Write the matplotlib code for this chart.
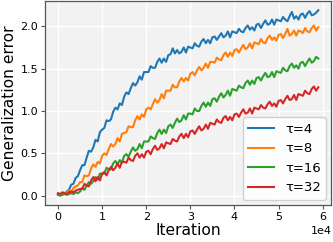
#! /usr/bin/env python
'''
Generalization error vs iteration for several tau values
'''

import numpy as np
import matplotlib
matplotlib.use("Agg")
import matplotlib.pyplot as plt

# iterations, one reading every 500 steps (0 .. 59000)
iterations = np.arange(0, 59500, 500)

# values
tau4 = [0.02, 0.01, 0.03, 0.02, 0.05, 0.07, 0.13, 0.14, 0.21, 0.23, 0.30,
        0.36, 0.36, 0.45, 0.53, 0.52, 0.57, 0.66, 0.64, 0.75, 0.78,
        0.80, 0.89, 0.88, 0.90, 0.99, 1.04, 1.02, 1.09, 1.07, 1.17,
        1.22, 1.20, 1.27, 1.33, 1.30, 1.34, 1.41, 1.37, 1.46, 1.46,
        1.46, 1.53, 1.51, 1.51, 1.58, 1.62, 1.57, 1.62, 1.58, 1.66,
        1.67, 1.74, 1.68, 1.72, 1.68, 1.70, 1.75, 1.69, 1.76, 1.75,
        1.74, 1.80, 1.77, 1.76, 1.82, 1.85, 1.80, 1.84, 1.80, 1.87,
        1.88, 1.84, 1.88, 1.92, 1.87, 1.89, 1.94, 1.87, 1.94, 1.93,
        1.92, 1.97, 1.94, 1.93, 1.98, 2.01, 1.96, 1.99, 1.95, 2.02,
        2.03, 1.98, 2.03, 2.07, 2.02, 2.03, 2.08, 2.02, 2.08, 2.07,
        2.06, 2.11, 2.08, 2.06, 2.12, 2.17, 2.09, 2.12, 2.08, 2.14,
        2.15, 2.10, 2.15, 2.18, 2.13, 2.14, 2.16, 2.19]
tau8 = [0.02, 0.01, 0.03, 0.02, 0.04, 0.06, 0.05, 0.09, 0.11, 0.12, 0.16,
        0.16, 0.24, 0.23, 0.24, 0.32, 0.37, 0.34, 0.40, 0.38, 0.47,
        0.50, 0.48, 0.55, 0.61, 0.58, 0.61, 0.68, 0.64, 0.73, 0.74,
        0.75, 0.82, 0.81, 0.81, 0.89, 0.94, 0.90, 0.96, 0.93, 1.02,
        1.04, 1.02, 1.08, 1.14, 1.10, 1.13, 1.20, 1.15, 1.24, 1.24,
        1.24, 1.31, 1.28, 1.28, 1.35, 1.39, 1.35, 1.39, 1.36, 1.44,
        1.46, 1.42, 1.48, 1.52, 1.48, 1.51, 1.56, 1.51, 1.58, 1.58,
        1.57, 1.63, 1.61, 1.60, 1.66, 1.69, 1.64, 1.69, 1.65, 1.72,
        1.73, 1.69, 1.74, 1.78, 1.73, 1.75, 1.80, 1.74, 1.81, 1.80,
        1.79, 1.85, 1.81, 1.80, 1.86, 1.89, 1.84, 1.87, 1.83, 1.90,
        1.91, 1.86, 1.91, 1.97, 1.89, 1.91, 1.95, 1.89, 1.95, 1.94,
        1.92, 1.98, 1.94, 1.93, 1.98, 2.01, 1.95, 1.99]
tau16 = [0.01, 0.00, 0.01, 0.02, 0.01, 0.02, 0.03, 0.02, 0.04, 0.03, 0.05,
         0.09, 0.07, 0.12, 0.16, 0.14, 0.17, 0.22, 0.19, 0.26, 0.26,
         0.26, 0.33, 0.31, 0.31, 0.38, 0.41, 0.37, 0.42, 0.39, 0.47,
         0.49, 0.46, 0.52, 0.57, 0.53, 0.55, 0.61, 0.56, 0.64, 0.64,
         0.64, 0.70, 0.68, 0.67, 0.74, 0.78, 0.73, 0.78, 0.74, 0.82,
         0.84, 0.80, 0.86, 0.91, 0.87, 0.89, 0.95, 0.90, 0.97, 0.97,
         0.96, 1.03, 1.00, 1.00, 1.06, 1.10, 1.05, 1.10, 1.06, 1.14,
         1.15, 1.11, 1.17, 1.21, 1.16, 1.19, 1.24, 1.18, 1.26, 1.25,
         1.24, 1.30, 1.28, 1.27, 1.33, 1.36, 1.31, 1.36, 1.32, 1.39,
         1.40, 1.36, 1.41, 1.45, 1.40, 1.41, 1.46, 1.40, 1.47, 1.46,
         1.45, 1.51, 1.48, 1.47, 1.53, 1.56, 1.51, 1.54, 1.50, 1.57,
         1.58, 1.53, 1.58, 1.62, 1.57, 1.59, 1.64, 1.62]
tau32 = [0.03, 0.02, 0.04, 0.03, 0.02, 0.04, 0.05, 0.04, 0.06, 0.07, 0.08,
         0.08, 0.14, 0.12, 0.11, 0.18, 0.22, 0.17, 0.22, 0.18, 0.26,
         0.28, 0.24, 0.30, 0.34, 0.30, 0.33, 0.38, 0.33, 0.40, 0.40,
         0.39, 0.45, 0.42, 0.41, 0.47, 0.50, 0.45, 0.49, 0.45, 0.52,
         0.53, 0.49, 0.55, 0.59, 0.54, 0.56, 0.61, 0.56, 0.63, 0.62,
         0.61, 0.67, 0.65, 0.64, 0.70, 0.73, 0.68, 0.73, 0.69, 0.76,
         0.77, 0.73, 0.78, 0.82, 0.77, 0.79, 0.84, 0.79, 0.86, 0.85,
         0.84, 0.90, 0.87, 0.86, 0.92, 0.94, 0.89, 0.93, 0.89, 0.96,
         0.97, 0.93, 0.98, 1.02, 0.97, 0.98, 1.03, 0.97, 1.04, 1.03,
         1.02, 1.07, 1.04, 1.03, 1.08, 1.11, 1.06, 1.09, 1.05, 1.12,
         1.13, 1.09, 1.14, 1.18, 1.13, 1.14, 1.19, 1.13, 1.20, 1.19,
         1.18, 1.24, 1.21, 1.20, 1.26, 1.29, 1.24, 1.28]

series = [(tau4, "τ=4"), (tau8, "τ=8"), (tau16, "τ=16"), (tau32, "τ=32")]
colors = ["#1f77b4", "#ff7f0e", "#2ca02c", "#d62728"]

fig = plt.figure(figsize=(3.33, 2.42), dpi=100)
ax = fig.add_axes([0.135, 0.153, 0.86, 0.843])
ax.set_facecolor("#f2f2f2")
for spine in ax.spines.values():
   spine.set_color("#555555")
   spine.set_linewidth(0.9)

for (vals, lab), col in zip(series, colors):
   ax.plot(iterations, vals, color=col, linewidth=1.5, label=lab)

ax.grid(True, color="white", linewidth=1.0)
ax.set_axisbelow(True)
ax.ticklabel_format(style="sci", axis="x", scilimits=(0, 0))
ax.xaxis.get_offset_text().set_fontsize(8)
ax.set_yticks([0.0, 0.5, 1.0, 1.5, 2.0])
ax.tick_params(labelsize=8, length=3, width=0.8, color="#555555", pad=2)
ax.set_xlabel("Iteration", fontsize=11.2, labelpad=1)
ax.set_ylabel("Generalization error", fontsize=11.2, labelpad=2)
ax.legend(loc="lower right", fontsize=9.5, framealpha=0.9, borderaxespad=0.4)

fig.savefig("out.png", dpi=100)
